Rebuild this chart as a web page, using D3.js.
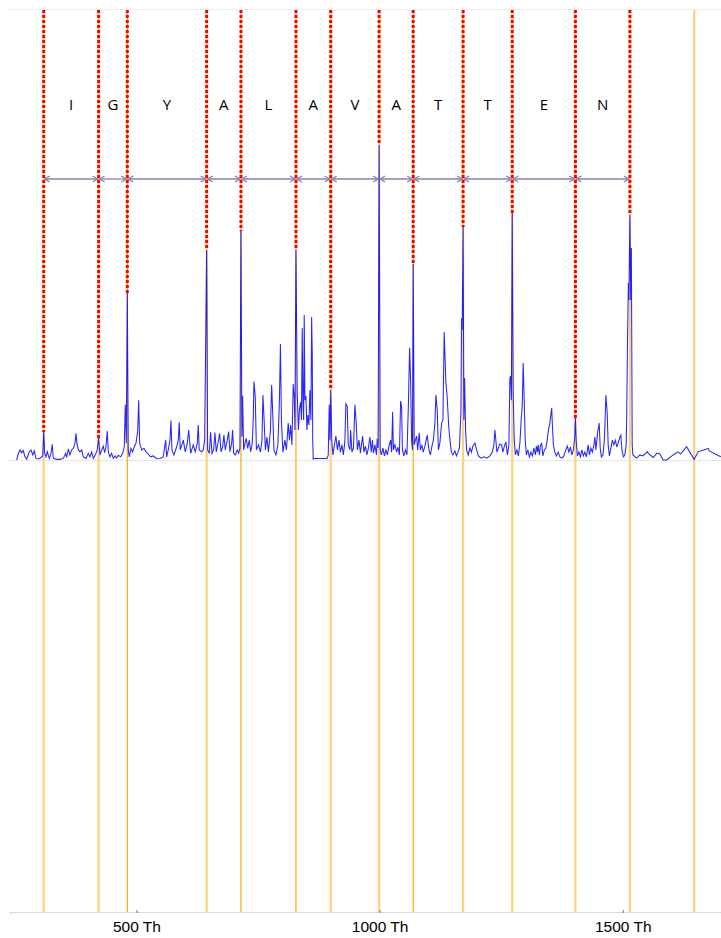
<!DOCTYPE html>
<html>
<head>
<meta charset="utf-8">
<script src="https://cdn.jsdelivr.net/npm/d3@7/dist/d3.min.js"></script>
<style>
  html, body { margin: 0; padding: 0; background: #fff; }
  svg { display: block; }
</style>
</head>
<body>
<svg id="chart" width="721" height="938"></svg>
<script>
// Fragment ion ladder (m/z in Th) and the intensity of each ladder peak (% of base peak)
const ladderMz = [309.3, 422.2, 481.2, 644.4, 714.9, 828.0, 899.5, 999.0, 1069.1, 1171.7, 1272.7, 1402.6, 1514.7];
const ladderIntensity = [8.9, 7.0, 53.0, 66.7, 72.7, 66.7, 22.2, 100, 62.2, 74.0, 78.4, 13.3, 77.8];
// Residues read between consecutive ladder ions
const residues = ["I", "G", "Y", "A", "L", "A", "V", "A", "T", "T", "E", "N"];
// Marker lines: every ladder ion plus one further marker, with the ion type of each
const markerMz = [309.3, 422.2, 481.2, 644.4, 714.9, 828.0, 899.5, 999.0, 1069.1, 1171.7, 1272.7, 1402.6, 1514.7, 1646.9];
const markerKind = ["y", "y", "b", "y", "b", "b", "y", "y", "b", "y", "y", "y", "y", "y"];
// Axis ticks
const tickValues = [500, 1000, 1500];
const tickUnit = "Th";

// Remaining centroid points of the spectrum: [m/z, relative intensity]
const backgroundPeaks = [
  [253.8,0],[257.0,1.9],[260.6,3.2],[264.0,2.3],[267.3,3.0],[270.8,1.0],[274.3,0.3],[279.7,2.6],[283.2,3.2],[286.7,1.6],[290.0,2.9],[293.4,0.5],[298.2,0.3],[303.1,0.7],[307.2,1.3],
  [311.3,2.1],[314.0,1.0],[316.7,2.6],[320.8,0.5],[323.7,1.6],[326.9,5.0],[329.0,0.5],[336.0,0.2],[342.8,0.2],[349.6,0.5],[354.5,2.1],[356.6,0.8],[359.8,3.5],[363.3,1.6],[366.8,3.2],[370.1,3.7],[373.6,5.3],[375.7,8.5],[377.7,5.3],[380.4,3.2],[383.9,2.6],[387.4,3.2],[390.7,1.0],[396.2,0.5],[400.9,2.1],[404.4,1.0],[407.9,2.6],[411.2,0.5],[416.2,1.9],[419.4,3.2],
  [425.0,1.6],[428.5,3.2],[431.8,4.4],[434.7,2.3],[437.3,4.2],[440.0,9.2],[442.1,2.6],[445.6,1.0],[449.0,2.1],[452.3,0.5],[455.8,1.3],[459.3,0.6],[462.6,1.5],[467.6,1.0],[471.7,2.1],[475.0,4.2],[477.0,17.5],[479.1,5.3],
  [483.2,3.2],[485.2,1.0],[488.7,3.7],[492.2,2.6],[495.5,4.2],[499.0,5.3],[502.5,9.0],[504.6,19.0],[506.6,5.3],[510.7,3.2],[515.5,3.7],[519.6,2.6],[524.3,1.9],[529.2,1.0],[534.6,1.3],[541.6,0.4],[548.3,0.5],[555.1,1.0],[560.1,6.3],[562.1,1.0],[565.4,3.2],[568.9,6.3],[571.0,12.5],[573.0,3.2],[577.1,1.6],[582.7,4.2],[586.0,6.3],[588.0,12.0],[590.1,3.2],[596.3,6.3],[600.4,2.6],[604.5,5.3],[607.4,9.5],[611.5,2.1],[616.8,4.8],[620.9,2.6],[625.0,5.3],[627.1,11.1],[629.1,3.2],[634.1,2.6],[637.4,3.2],[640.2,6.3],
  [646.4,3.2],[649.7,2.1],[652.6,8.8],[655.3,2.1],[658.8,3.2],[661.4,8.7],[664.1,2.6],[668.2,5.8],[671.1,8.5],[673.8,2.6],[677.3,4.2],[679.9,7.9],[682.6,3.2],[686.7,6.3],[689.6,9.0],[692.3,2.6],[695.8,5.3],[697.8,9.5],[699.9,2.1],[703.2,1.6],[707.3,3.2],[710.1,2.1],[712.8,3.7],
  [716.9,7.4],[718.4,20.4],[720.4,3.2],[723.1,5.3],[725.8,6.9],[728.7,3.7],[732.0,6.3],[734.8,2.6],[738.1,5.3],[740.2,12.9],[741.6,24.9],[744.3,20.1],[746.7,3.2],[750.9,4.8],[755.0,2.5],[758.1,6.3],[760.1,20.6],[762.2,13.7],[765.2,3.2],[768.3,7.3],[771.4,2.5],[775.5,9.5],[778.0,23.8],[780.0,15.9],[782.7,3.2],[786.8,1.6],[790.9,4.8],[794.0,18.7],[796.1,36.8],[798.1,12.7],[801.2,2.5],[805.3,6.3],[808.4,3.2],[812.1,11.7],[814.6,6.3],[817.0,11.1],[819.7,4.8],[822.4,24.1],[824.5,20.0],[825.9,9.5],
  [830.6,21.3],[833.1,9.5],[835.1,15.9],[837.6,18.4],[839.3,12.7],[840.9,41.9],[842.3,19.0],[843.8,12.7],[845.0,46.0],[846.5,19.0],[848.5,20.3],[850.6,9.5],[852.6,14.3],[854.7,11.1],[856.7,22.2],[858.8,12.7],[860.2,45.4],[861.5,34.3],[862.5,6.3],[863.5,0.3],[865.0,0.5],[891.7,0.5],[894.4,1.5],[896.4,17.5],[897.9,6.3],
  [901.6,6.3],[904.0,1.6],[907.1,4.8],[910.2,7.6],[913.3,3.2],[916.4,6.3],[919.4,2.5],[922.5,4.8],[925.6,1.6],[928.7,6.3],[930.7,17.8],[933.4,17.1],[935.5,4.8],[939.0,3.2],[940.4,9.5],[943.1,2.5],[946.2,3.8],[949.2,17.5],[951.9,11.7],[954.4,3.2],[957.5,6.3],[960.6,2.2],[962.6,4.8],[965.1,7.6],[967.8,2.5],[970.8,4.4],[973.9,1.6],[977.0,3.8],[980.1,7.3],[982.8,2.5],[985.2,6.3],[987.3,2.2],[990.4,4.8],[993.5,1.6],[995.1,6.7],[996.9,3.8],
  [1001.2,3.2],[1003.7,1.6],[1006.8,3.8],[1009.9,1.3],[1013.0,3.2],[1016.1,1.6],[1019.2,4.4],[1022.6,6.3],[1024.7,2.5],[1026.8,15.2],[1028.4,3.2],[1031.5,4.8],[1035.0,2.5],[1037.7,4.1],[1040.7,1.6],[1043.2,18.7],[1045.3,16.8],[1046.9,3.2],[1050.0,1.3],[1053.1,3.2],[1056.2,1.6],[1059.2,17.5],[1061.7,35.6],[1063.8,24.8],[1065.8,6.3],[1067.5,3.2],
  [1071.2,4.8],[1073.6,6.3],[1076.1,7.6],[1078.2,3.2],[1081.4,8.6],[1083.9,3.2],[1087.0,4.8],[1089.7,2.5],[1093.2,4.4],[1095.8,6.3],[1097.9,7.9],[1101.4,3.2],[1104.5,1.6],[1107.6,4.4],[1110.6,6.3],[1113.7,11.7],[1115.8,20.6],[1118.5,15.9],[1120.9,3.2],[1124.0,5.4],[1127.5,11.7],[1130.2,12.7],[1132.8,40.6],[1134.9,30.8],[1136.3,24.4],[1139.0,20.0],[1141.9,11.1],[1144.6,6.3],[1147.6,2.5],[1150.7,1.6],[1154.8,2.9],[1157.9,1.3],[1161.0,2.5],[1164.1,3.8],[1167.2,15.2],[1168.6,45.1],[1169.8,41.3],
  [1173.3,12.7],[1174.8,26.0],[1176.8,9.5],[1178.9,3.2],[1182.2,1.6],[1185.7,3.8],[1188.8,2.5],[1191.8,4.4],[1196.0,5.4],[1199.5,3.2],[1203.2,1.3],[1208.3,0.6],[1214.5,1.0],[1220.6,0.6],[1226.8,1.3],[1231.9,2.5],[1235.0,4.8],[1237.1,9.5],[1239.1,6.3],[1241.2,2.5],[1244.3,3.8],[1247.4,5.1],[1250.9,4.8],[1253.5,2.5],[1256.6,4.4],[1259.7,5.7],[1262.8,1.6],[1265.9,4.8],[1267.9,26.0],[1269.4,26.7],[1271.0,19.0],
  [1274.7,21.6],[1276.8,6.3],[1279.2,1.6],[1282.3,3.2],[1285.4,1.3],[1288.5,5.4],[1291.1,12.7],[1293.2,16.8],[1295.3,30.8],[1297.3,19.0],[1299.4,6.3],[1301.8,1.6],[1304.9,3.2],[1308.0,1.0],[1311.1,2.5],[1314.2,1.3],[1317.3,3.8],[1320.3,1.6],[1322.4,4.4],[1324.5,2.5],[1326.1,4.8],[1328.6,1.6],[1330.6,4.4],[1333.1,5.4],[1335.8,1.3],[1338.8,3.2],[1341.9,3.8],[1344.6,6.3],[1347.1,9.5],[1350.2,11.7],[1352.8,15.2],[1353.9,16.5],[1355.3,11.1],[1357.3,4.8],[1360.4,2.5],[1363.5,1.3],[1367.2,2.5],[1370.7,1.0],[1374.8,0.6],[1378.9,1.3],[1383.0,3.2],[1386.1,4.4],[1389.2,2.5],[1392.3,4.1],[1395.4,1.6],[1398.5,3.2],[1401.1,7.0],
  [1404.2,6.3],[1406.7,1.3],[1409.8,2.5],[1412.9,1.0],[1415.9,3.2],[1419.0,1.3],[1422.1,2.5],[1425.2,1.0],[1428.9,4.8],[1431.4,1.6],[1434.4,3.8],[1437.5,2.5],[1440.6,4.8],[1442.7,7.3],[1444.7,3.2],[1446.8,6.3],[1448.2,8.6],[1449.9,10.2],[1451.5,11.7],[1453.6,3.8],[1456.0,1.0],[1459.1,1.6],[1462.2,6.3],[1464.3,15.9],[1465.3,20.6],[1468.0,14.9],[1470.0,4.8],[1472.5,1.3],[1475.6,3.8],[1478.6,6.3],[1481.7,4.8],[1484.8,6.3],[1487.9,4.1],[1491.0,5.7],[1494.1,7.3],[1496.1,7.9],[1498.2,3.2],[1501.3,1.0],[1504.3,1.6],[1507.0,4.8],[1508.0,12.7],[1509.5,34.0],[1511.5,56.2],[1512.6,50.8],
  [1516.3,50.8],[1517.7,67.3],[1519.4,4.8],[1520.8,1.6],[1528.4,0.6],[1535.2,1.6],[1541.3,1.3],[1550.2,2.6],[1555.7,1.6],[1562.5,0.8],[1570.1,2.2],[1576.3,1.9],[1583.1,0],[1590.7,0],[1603.6,1.6],[1613.9,2.6],[1618.9,1.9],[1631.2,4.2],[1646.8,0.2],[1655.0,2.6],[1672.3,3.5],[1675.6,3.7],[1677.7,2.9],[1701.7,1.0]
];

// ---- layout ----
const W = 721, H = 938;
const plotLeft = 10, plotRight = 721;
const topY = 10, axisY = 912, baseY = 460, fullScaleY = 145;
const arrowY = 179, letterY = 104;

const svg = d3.select("#chart");
svg.append("rect").attr("width", W).attr("height", H).attr("fill", "#fff");

const x = d3.scaleLinear().domain([240, 1702]).range([plotLeft, plotRight]);
const y = d3.scaleLinear().domain([0, 100]).range([baseY, fullScaleY]);

// Full spectrum = ladder peaks merged with the rest of the centroids
const spectrum = backgroundPeaks
  .concat(ladderMz.map((m, i) => [m, ladderIntensity[i]]))
  .sort((a, b) => a[0] - b[0]);

// Frame lines: faint top rule and the spectrum baseline
svg.append("line")
  .attr("x1", 8).attr("x2", W).attr("y1", 9.5).attr("y2", 9.5)
  .attr("stroke", "#ececec").attr("stroke-width", 1);
svg.append("line")
  .attr("x1", 8).attr("x2", W).attr("y1", baseY + 0.5).attr("y2", baseY + 0.5)
  .attr("stroke", "#e6e6e6").attr("stroke-width", 1);

// Marker lines through both panels
const markerStyle = {
  y: { stroke: "#ffd27a", width: 2.2 },
  b: { stroke: "#f5a300", width: 1.1 }
};
svg.append("g").selectAll("line")
  .data(markerMz.map((m, i) => ({ m, kind: markerKind[i] })))
  .join("line")
  .attr("x1", d => x(d.m)).attr("x2", d => x(d.m))
  .attr("y1", topY).attr("y2", axisY)
  .attr("stroke", d => markerStyle[d.kind].stroke)
  .attr("stroke-width", d => markerStyle[d.kind].width);

// Spectrum trace
const line = d3.line().x(d => x(d[0])).y(d => y(d[1]));
svg.append("path")
  .datum(spectrum)
  .attr("d", line)
  .attr("fill", "none")
  .attr("stroke", "#0000ff")
  .attr("stroke-width", 1.05)
  .attr("stroke-opacity", 0.85);

// Red dotted leaders from the top down to each ladder peak apex
svg.append("g").selectAll("line")
  .data(ladderMz.map((m, i) => ({ m, v: ladderIntensity[i] })))
  .join("line")
  .attr("x1", d => x(d.m)).attr("x2", d => x(d.m))
  .attr("y1", topY).attr("y2", d => y(d.v))
  .attr("stroke", "#ff0000")
  .attr("stroke-width", 3)
  .attr("stroke-dasharray", "3,2");

// Double-headed arrows spanning each residue
const gaps = residues.map((r, i) => ({ r, a: ladderMz[i], b: ladderMz[i + 1] }));
const arrowG = svg.append("g")
  .attr("stroke", "#8383b0").attr("stroke-width", 1.3).attr("fill", "none");
gaps.forEach(g => {
  const x0 = x(g.a) + 1, x1 = x(g.b) - 1;
  arrowG.append("line").attr("x1", x0).attr("x2", x1).attr("y1", arrowY).attr("y2", arrowY);
  arrowG.append("path").attr("d", `M${x0 + 5},${arrowY - 3}L${x0},${arrowY}L${x0 + 5},${arrowY + 3}`);
  arrowG.append("path").attr("d", `M${x1 - 5},${arrowY - 3}L${x1},${arrowY}L${x1 - 5},${arrowY + 3}`);
});

// Residue letters
svg.append("g").selectAll("text")
  .data(gaps)
  .join("text")
  .attr("x", d => (x(d.a) + x(d.b)) / 2)
  .attr("y", letterY)
  .attr("text-anchor", "middle")
  .attr("dominant-baseline", "central")
  .attr("font-family", "'Open Sans', 'Liberation Sans', sans-serif")
  .attr("font-size", 15)
  .attr("fill", "#000")
  .text(d => d.r);

// Bottom m/z axis
const axis = d3.axisBottom(x)
  .tickValues(tickValues)
  .tickSize(3)
  .tickFormat(d => `${d} ${tickUnit}`);
const axisG = svg.append("g").attr("transform", `translate(0,${axisY})`).call(axis);
axisG.select(".domain").attr("stroke", "#d9d9d9").attr("stroke-width", 1.2);
axisG.selectAll(".tick line").attr("stroke", "#777").attr("transform", "translate(0,-2)");
axisG.selectAll(".tick text")
  .attr("font-family", "'Liberation Sans', Arial, sans-serif")
  .attr("font-size", 15.5)
  .attr("fill", "#000")
  .attr("dy", "0.95em")
  .attr("y", 5);
</script>
</body>
</html>
